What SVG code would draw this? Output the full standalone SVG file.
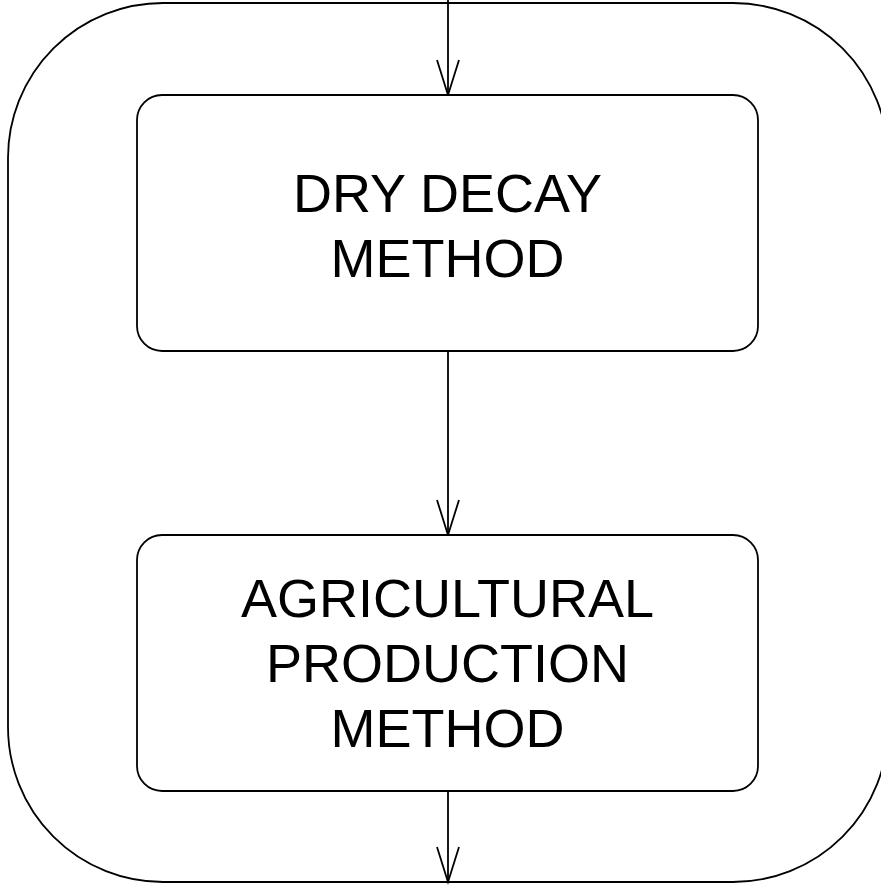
<svg xmlns="http://www.w3.org/2000/svg" width="881" height="886" viewBox="0 0 881 886">
<style>
.s{fill:none;stroke:#000;stroke-width:1.8}
.n{fill:#fff;stroke:#000;stroke-width:1.8}
.t{font-family:"Liberation Sans",Arial,sans-serif;font-size:54px;fill:#000;text-anchor:middle}
</style>
<defs>
<marker id="v" markerUnits="userSpaceOnUse" markerWidth="40" markerHeight="26" refX="36" refY="12" orient="auto" viewBox="0 0 40 26" overflow="visible">
<path d="M1,1 L36,12 L1,23" fill="none" stroke="#000" stroke-width="1.8"/>
</marker>
</defs>
<g id="outer">
<rect class="s" x="8" y="3" width="880" height="879" rx="155" ry="155"/>
</g>
<g id="connectors">
<line class="s" x1="448" y1="0" x2="448" y2="95" marker-end="url(#v)"/>
<line class="s" x1="448" y1="351" x2="448" y2="535" marker-end="url(#v)"/>
<line class="s" x1="448" y1="791" x2="448" y2="882" marker-end="url(#v)"/>
</g>
<g id="dry-decay">
<rect class="n" x="137" y="95" width="621" height="256" rx="25" ry="25"/>
<text class="t" x="447.5" y="212">DRY DECAY</text>
<text class="t" x="447.5" y="277">METHOD</text>
</g>
<g id="agricultural">
<rect class="n" x="137" y="535" width="621" height="256" rx="25" ry="25"/>
<text class="t" x="447.5" y="617">AGRICULTURAL</text>
<text class="t" x="447.5" y="682">PRODUCTION</text>
<text class="t" x="447.5" y="747">METHOD</text>
</g>
</svg>
